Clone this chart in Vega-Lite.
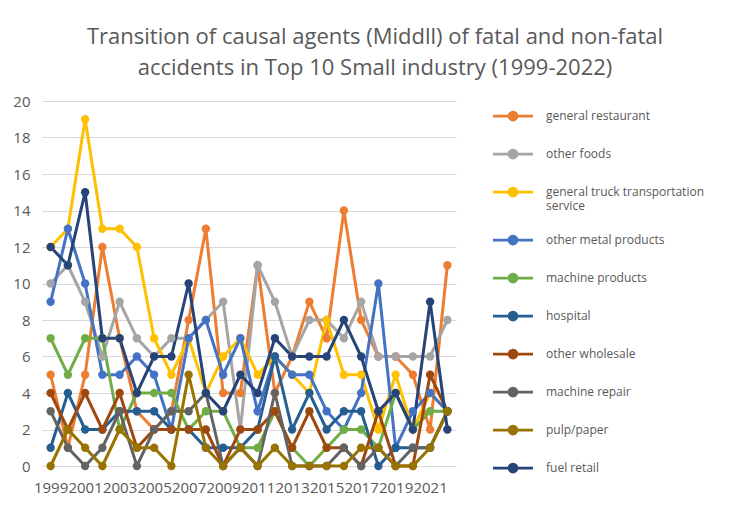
{
  "$schema": "https://vega.github.io/schema/vega-lite/v6.json",
  "width": 414,
  "height": 365,
  "autosize": {"type": "none"},
  "padding": {"left": 42, "top": 101, "right": 280, "bottom": 41},
  "background": "white",
  "title": {
    "text": ["Transition of causal agents (Middll) of fatal and non-fatal", "accidents in Top 10 Small industry (1999-2022)"],
    "anchor": "middle", "dx": 126, "offset": 14,
    "font": "Open Sans", "fontSize": 22, "fontWeight": "normal", "color": "#595959", "lineHeight": 31
  },
  "config": {"view": {"stroke": null}},
  "data": {"values": [
    {"year":1999,"series":"general restaurant","value":5},{"year":2000,"series":"general restaurant","value":1},{"year":2001,"series":"general restaurant","value":5},{"year":2002,"series":"general restaurant","value":12},{"year":2003,"series":"general restaurant","value":7},{"year":2004,"series":"general restaurant","value":3},{"year":2005,"series":"general restaurant","value":2},{"year":2006,"series":"general restaurant","value":3},{"year":2007,"series":"general restaurant","value":8},{"year":2008,"series":"general restaurant","value":13},{"year":2009,"series":"general restaurant","value":4},{"year":2010,"series":"general restaurant","value":4},{"year":2011,"series":"general restaurant","value":11},{"year":2012,"series":"general restaurant","value":4},{"year":2013,"series":"general restaurant","value":6},{"year":2014,"series":"general restaurant","value":9},{"year":2015,"series":"general restaurant","value":7},{"year":2016,"series":"general restaurant","value":14},{"year":2017,"series":"general restaurant","value":8},{"year":2018,"series":"general restaurant","value":6},{"year":2019,"series":"general restaurant","value":6},{"year":2020,"series":"general restaurant","value":5},{"year":2021,"series":"general restaurant","value":2},{"year":2022,"series":"general restaurant","value":11},
    {"year":1999,"series":"other foods","value":10},{"year":2000,"series":"other foods","value":11},{"year":2001,"series":"other foods","value":9},{"year":2002,"series":"other foods","value":6},{"year":2003,"series":"other foods","value":9},{"year":2004,"series":"other foods","value":7},{"year":2005,"series":"other foods","value":6},{"year":2006,"series":"other foods","value":7},{"year":2007,"series":"other foods","value":7},{"year":2008,"series":"other foods","value":8},{"year":2009,"series":"other foods","value":9},{"year":2010,"series":"other foods","value":2},{"year":2011,"series":"other foods","value":11},{"year":2012,"series":"other foods","value":9},{"year":2013,"series":"other foods","value":6},{"year":2014,"series":"other foods","value":8},{"year":2015,"series":"other foods","value":8},{"year":2016,"series":"other foods","value":7},{"year":2017,"series":"other foods","value":9},{"year":2018,"series":"other foods","value":6},{"year":2019,"series":"other foods","value":6},{"year":2020,"series":"other foods","value":6},{"year":2021,"series":"other foods","value":6},{"year":2022,"series":"other foods","value":8},
    {"year":1999,"series":"general truck transportation service","value":12},{"year":2000,"series":"general truck transportation service","value":13},{"year":2001,"series":"general truck transportation service","value":19},{"year":2002,"series":"general truck transportation service","value":13},{"year":2003,"series":"general truck transportation service","value":13},{"year":2004,"series":"general truck transportation service","value":12},{"year":2005,"series":"general truck transportation service","value":7},{"year":2006,"series":"general truck transportation service","value":5},{"year":2007,"series":"general truck transportation service","value":7},{"year":2008,"series":"general truck transportation service","value":4},{"year":2009,"series":"general truck transportation service","value":6},{"year":2010,"series":"general truck transportation service","value":7},{"year":2011,"series":"general truck transportation service","value":5},{"year":2012,"series":"general truck transportation service","value":6},{"year":2013,"series":"general truck transportation service","value":5},{"year":2014,"series":"general truck transportation service","value":4},{"year":2015,"series":"general truck transportation service","value":8},{"year":2016,"series":"general truck transportation service","value":5},{"year":2017,"series":"general truck transportation service","value":5},{"year":2018,"series":"general truck transportation service","value":2},{"year":2019,"series":"general truck transportation service","value":5},{"year":2020,"series":"general truck transportation service","value":2},{"year":2021,"series":"general truck transportation service","value":4},{"year":2022,"series":"general truck transportation service","value":3},
    {"year":1999,"series":"other metal products","value":9},{"year":2000,"series":"other metal products","value":13},{"year":2001,"series":"other metal products","value":10},{"year":2002,"series":"other metal products","value":5},{"year":2003,"series":"other metal products","value":5},{"year":2004,"series":"other metal products","value":6},{"year":2005,"series":"other metal products","value":5},{"year":2006,"series":"other metal products","value":2},{"year":2007,"series":"other metal products","value":7},{"year":2008,"series":"other metal products","value":8},{"year":2009,"series":"other metal products","value":5},{"year":2010,"series":"other metal products","value":7},{"year":2011,"series":"other metal products","value":3},{"year":2012,"series":"other metal products","value":6},{"year":2013,"series":"other metal products","value":5},{"year":2014,"series":"other metal products","value":5},{"year":2015,"series":"other metal products","value":3},{"year":2016,"series":"other metal products","value":2},{"year":2017,"series":"other metal products","value":4},{"year":2018,"series":"other metal products","value":10},{"year":2019,"series":"other metal products","value":1},{"year":2020,"series":"other metal products","value":3},{"year":2021,"series":"other metal products","value":4},{"year":2022,"series":"other metal products","value":3},
    {"year":1999,"series":"machine products","value":7},{"year":2000,"series":"machine products","value":5},{"year":2001,"series":"machine products","value":7},{"year":2002,"series":"machine products","value":7},{"year":2003,"series":"machine products","value":2},{"year":2004,"series":"machine products","value":4},{"year":2005,"series":"machine products","value":4},{"year":2006,"series":"machine products","value":4},{"year":2007,"series":"machine products","value":2},{"year":2008,"series":"machine products","value":3},{"year":2009,"series":"machine products","value":3},{"year":2010,"series":"machine products","value":1},{"year":2011,"series":"machine products","value":1},{"year":2012,"series":"machine products","value":3},{"year":2013,"series":"machine products","value":1},{"year":2014,"series":"machine products","value":0},{"year":2015,"series":"machine products","value":1},{"year":2016,"series":"machine products","value":2},{"year":2017,"series":"machine products","value":2},{"year":2018,"series":"machine products","value":1},{"year":2019,"series":"machine products","value":4},{"year":2020,"series":"machine products","value":2},{"year":2021,"series":"machine products","value":3},{"year":2022,"series":"machine products","value":3},
    {"year":1999,"series":"hospital","value":1},{"year":2000,"series":"hospital","value":4},{"year":2001,"series":"hospital","value":2},{"year":2002,"series":"hospital","value":2},{"year":2003,"series":"hospital","value":3},{"year":2004,"series":"hospital","value":3},{"year":2005,"series":"hospital","value":3},{"year":2006,"series":"hospital","value":2},{"year":2007,"series":"hospital","value":2},{"year":2008,"series":"hospital","value":1},{"year":2009,"series":"hospital","value":1},{"year":2010,"series":"hospital","value":1},{"year":2011,"series":"hospital","value":2},{"year":2012,"series":"hospital","value":6},{"year":2013,"series":"hospital","value":2},{"year":2014,"series":"hospital","value":4},{"year":2015,"series":"hospital","value":2},{"year":2016,"series":"hospital","value":3},{"year":2017,"series":"hospital","value":3},{"year":2018,"series":"hospital","value":0},{"year":2019,"series":"hospital","value":1},{"year":2020,"series":"hospital","value":1},{"year":2021,"series":"hospital","value":1},{"year":2022,"series":"hospital","value":3},
    {"year":1999,"series":"other wholesale","value":4},{"year":2000,"series":"other wholesale","value":2},{"year":2001,"series":"other wholesale","value":4},{"year":2002,"series":"other wholesale","value":2},{"year":2003,"series":"other wholesale","value":4},{"year":2004,"series":"other wholesale","value":1},{"year":2005,"series":"other wholesale","value":2},{"year":2006,"series":"other wholesale","value":2},{"year":2007,"series":"other wholesale","value":2},{"year":2008,"series":"other wholesale","value":2},{"year":2009,"series":"other wholesale","value":0},{"year":2010,"series":"other wholesale","value":2},{"year":2011,"series":"other wholesale","value":2},{"year":2012,"series":"other wholesale","value":3},{"year":2013,"series":"other wholesale","value":1},{"year":2014,"series":"other wholesale","value":3},{"year":2015,"series":"other wholesale","value":1},{"year":2016,"series":"other wholesale","value":1},{"year":2017,"series":"other wholesale","value":0},{"year":2018,"series":"other wholesale","value":3},{"year":2019,"series":"other wholesale","value":0},{"year":2020,"series":"other wholesale","value":0},{"year":2021,"series":"other wholesale","value":5},{"year":2022,"series":"other wholesale","value":3},
    {"year":1999,"series":"machine repair","value":3},{"year":2000,"series":"machine repair","value":1},{"year":2001,"series":"machine repair","value":0},{"year":2002,"series":"machine repair","value":1},{"year":2003,"series":"machine repair","value":3},{"year":2004,"series":"machine repair","value":0},{"year":2005,"series":"machine repair","value":2},{"year":2006,"series":"machine repair","value":3},{"year":2007,"series":"machine repair","value":3},{"year":2008,"series":"machine repair","value":4},{"year":2009,"series":"machine repair","value":0},{"year":2010,"series":"machine repair","value":1},{"year":2011,"series":"machine repair","value":0},{"year":2012,"series":"machine repair","value":4},{"year":2013,"series":"machine repair","value":0},{"year":2014,"series":"machine repair","value":0},{"year":2015,"series":"machine repair","value":0},{"year":2016,"series":"machine repair","value":1},{"year":2017,"series":"machine repair","value":0},{"year":2018,"series":"machine repair","value":1},{"year":2019,"series":"machine repair","value":0},{"year":2020,"series":"machine repair","value":1},{"year":2021,"series":"machine repair","value":1},{"year":2022,"series":"machine repair","value":3},
    {"year":1999,"series":"pulp/paper","value":0},{"year":2000,"series":"pulp/paper","value":2},{"year":2001,"series":"pulp/paper","value":1},{"year":2002,"series":"pulp/paper","value":0},{"year":2003,"series":"pulp/paper","value":2},{"year":2004,"series":"pulp/paper","value":1},{"year":2005,"series":"pulp/paper","value":1},{"year":2006,"series":"pulp/paper","value":0},{"year":2007,"series":"pulp/paper","value":5},{"year":2008,"series":"pulp/paper","value":1},{"year":2009,"series":"pulp/paper","value":0},{"year":2010,"series":"pulp/paper","value":1},{"year":2011,"series":"pulp/paper","value":0},{"year":2012,"series":"pulp/paper","value":1},{"year":2013,"series":"pulp/paper","value":0},{"year":2014,"series":"pulp/paper","value":0},{"year":2015,"series":"pulp/paper","value":0},{"year":2016,"series":"pulp/paper","value":0},{"year":2017,"series":"pulp/paper","value":1},{"year":2018,"series":"pulp/paper","value":1},{"year":2019,"series":"pulp/paper","value":0},{"year":2020,"series":"pulp/paper","value":0},{"year":2021,"series":"pulp/paper","value":1},{"year":2022,"series":"pulp/paper","value":3},
    {"year":1999,"series":"fuel retail","value":12},{"year":2000,"series":"fuel retail","value":11},{"year":2001,"series":"fuel retail","value":15},{"year":2002,"series":"fuel retail","value":7},{"year":2003,"series":"fuel retail","value":7},{"year":2004,"series":"fuel retail","value":4},{"year":2005,"series":"fuel retail","value":6},{"year":2006,"series":"fuel retail","value":6},{"year":2007,"series":"fuel retail","value":10},{"year":2008,"series":"fuel retail","value":4},{"year":2009,"series":"fuel retail","value":3},{"year":2010,"series":"fuel retail","value":5},{"year":2011,"series":"fuel retail","value":4},{"year":2012,"series":"fuel retail","value":7},{"year":2013,"series":"fuel retail","value":6},{"year":2014,"series":"fuel retail","value":6},{"year":2015,"series":"fuel retail","value":6},{"year":2016,"series":"fuel retail","value":8},{"year":2017,"series":"fuel retail","value":6},{"year":2018,"series":"fuel retail","value":3},{"year":2019,"series":"fuel retail","value":4},{"year":2020,"series":"fuel retail","value":2},{"year":2021,"series":"fuel retail","value":9},{"year":2022,"series":"fuel retail","value":2}
  ]},
  "encoding": {
    "x": {
      "field": "year", "type": "ordinal",
      "scale": {"type": "point", "padding": 0.5},
      "axis": {
        "title": null, "labelAngle": 0, "labelOverlap": false,
        "labelExpr": "datum.value % 2 == 1 ? datum.label : ''",
        "ticks": false, "grid": false, "domainColor": "#D9D9D9", "domainWidth": 1,
        "labelColor": "#595959", "labelFont": "Open Sans", "labelFontSize": 15, "labelPadding": 14
      }
    },
    "y": {
      "field": "value", "type": "quantitative",
      "scale": {"domain": [0, 20], "nice": false},
      "axis": {
        "title": null, "values": [0, 2, 4, 6, 8, 10, 12, 14, 16, 18, 20],
        "domain": false, "ticks": false, "gridColor": "#D9D9D9", "gridWidth": 1,
        "labelColor": "#595959", "labelFont": "Open Sans", "labelFontSize": 15, "labelPadding": 12
      }
    },
    "color": {
      "field": "series", "type": "nominal",
      "scale": {
        "domain": ["general restaurant", "other foods", "general truck transportation service", "other metal products", "machine products", "hospital", "other wholesale", "machine repair", "pulp/paper", "fuel retail"],
        "range": ["#ED7D31", "#A5A5A5", "#FFC000", "#4472C4", "#70AD47", "#255E91", "#9E480E", "#636363", "#997300", "#264478"]
      },
      "legend": {
        "title": null, "orient": "none", "legendX": 448, "legendY": 9,
        "labelExpr": "datum.label == 'general truck transportation service' ? ['general truck transportation', 'service'] : datum.label",
        "labelFont": "Open Sans", "labelFontSize": 12, "labelColor": "#595959", "labelLimit": 300,
        "symbolType": "M-5,0H5M1,0A1,1,0,1,1,-1,0A1,1,0,1,1,1,0Z",
        "symbolSize": 64, "symbolStrokeWidth": 2.75,
        "symbolOffset": 17, "labelOffset": 27, "rowPadding": 18
      }
    }
  },
  "layer": [
    {"mark": {"type": "line", "strokeWidth": 3}},
    {"mark": {"type": "point", "filled": true, "size": 70, "opacity": 1}}
  ]
}
